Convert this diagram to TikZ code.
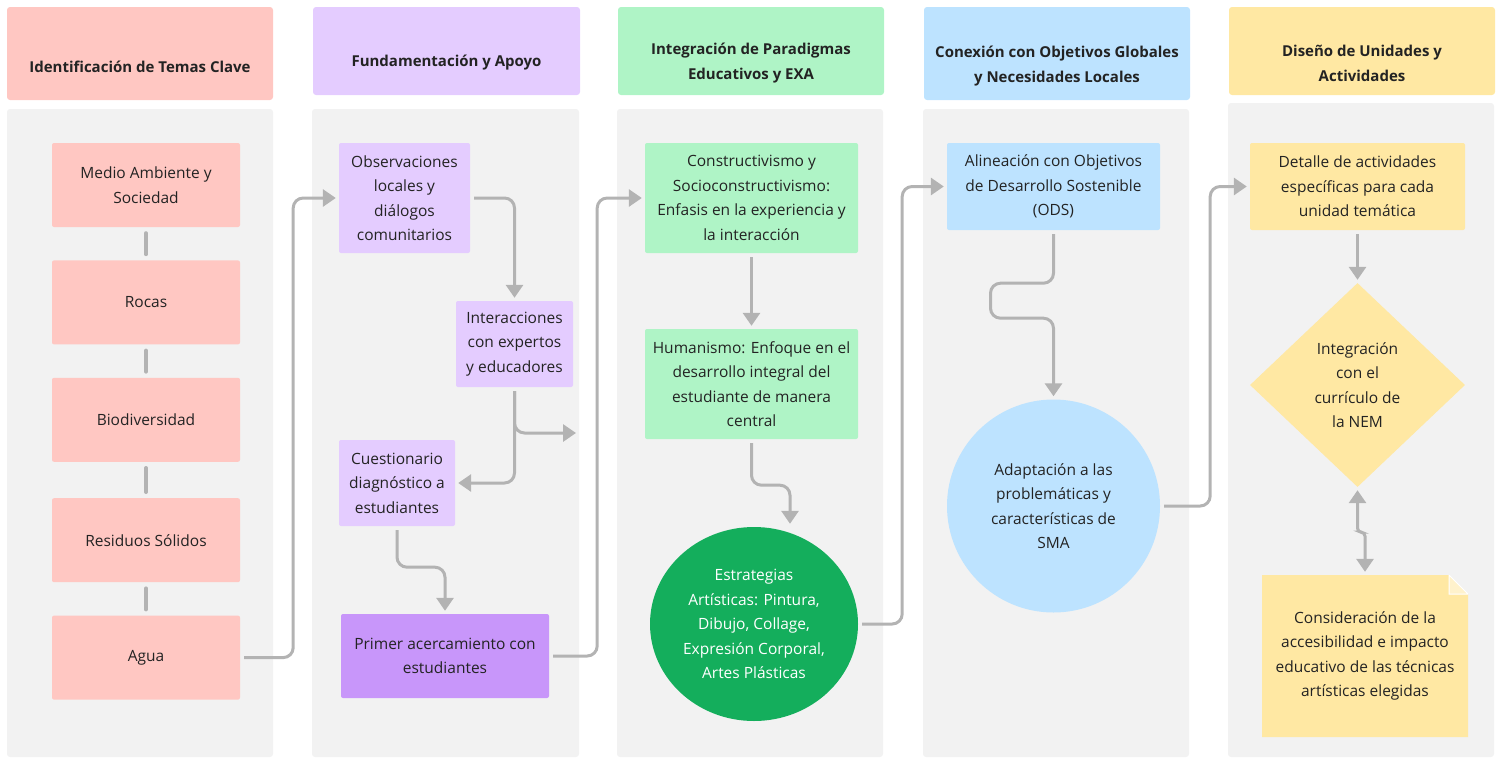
\documentclass[tikz,border=0pt]{standalone}
\usepackage{fontspec}
\setmainfont{Open Sans}
\usetikzlibrary{shapes.geometric, arrows.meta, positioning, backgrounds}
\definecolor{temasred}{RGB}{255,199,194}
\definecolor{apoyolilac}{RGB}{228,204,255}
\definecolor{apoyoviolet}{RGB}{200,150,250}
\definecolor{paradigmgreen}{RGB}{175,244,198}
\definecolor{artegreen}{RGB}{20,174,92}
\definecolor{globalblue}{RGB}{189,227,255}
\definecolor{disenoyellow}{RGB}{255,232,163}
\definecolor{panelgray}{RGB}{242,242,242}
\definecolor{linegray}{RGB}{179,179,179}
\definecolor{inkgray}{RGB}{35,35,35}
\tikzset{
    flowhead/.style={rectangle, fill=#1, rounded corners=3pt, minimum width=266pt, inner sep=0pt},
    flowtitle/.style={font=\bfseries\fontsize{15}{25}\selectfont, text=inkgray, align=center},
    flowpanel/.style={rectangle, fill=panelgray, rounded corners=3pt, minimum width=266pt, inner sep=0pt},
    flowbox/.style={rectangle, fill=#1, rounded corners=2pt, inner sep=0pt, align=center, text=inkgray, font=\fontsize{15.5}{24.5}\selectfont},
    flowround/.style={ellipse, fill=#1, inner sep=-8pt, align=center, text=inkgray, font=\fontsize{15.5}{24.5}\selectfont},
    flowdiamond/.style={diamond, fill=#1, aspect=1.05, inner sep=0pt, align=center, text=inkgray, font=\fontsize{15.5}{24.5}\selectfont},
    flownote/.style={rectangle, inner sep=0pt, align=center, text=inkgray, font=\fontsize{15.5}{24.5}\selectfont, path picture={
        \fill[#1] (path picture bounding box.south west) -- (path picture bounding box.north west) -- ([xshift=-19pt]path picture bounding box.north east) -- ([yshift=-19pt]path picture bounding box.north east) -- (path picture bounding box.south east) -- cycle;
        \filldraw[fill=#1!55!white, draw=white, line width=1pt] ([xshift=-19pt]path picture bounding box.north east) -- ([xshift=-19pt, yshift=-19pt]path picture bounding box.north east) -- ([yshift=-19pt]path picture bounding box.north east) -- cycle;}},
    flowarrow/.style={draw=linegray, line width=3pt, rounded corners=10pt, shorten <=4pt, shorten >=3pt, -{Triangle[length=13pt, width=17pt]}},
    flowdarrow/.style={flowarrow, {Triangle[length=13pt, width=17pt]}-{Triangle[length=13pt, width=17pt]}, shorten <=3pt, rounded corners=4pt},
    flowlink/.style={draw=linegray, line width=4pt, line cap=round, shorten <=6pt, shorten >=6pt}
}

\begin{document}
\begin{tikzpicture}[x=1pt, y=-1pt, node distance=33pt,
    tema/.style={flowbox=temasred, minimum width=188pt, minimum height=84pt}]
\useasboundingbox (0,0) rectangle (1502,758);

\node[flowhead=temasred, minimum height=93pt] (h1) at (140,53.5) {};
\node[flowhead=apoyolilac, minimum height=88pt, minimum width=267pt] (h2) at (446.5,51) {};
\node[flowhead=paradigmgreen, minimum height=88pt] (h3) at (751,51) {};
\node[flowhead=globalblue, minimum height=93pt] (h4) at (1057,53.5) {};
\node[flowhead=disenoyellow, minimum height=88pt] (h5) at (1362,51) {};
\node[flowtitle] (t1) at ([yshift=-13.5pt]h1.center) {Identificación de Temas Clave};
\node[flowtitle] (t2) at ([yshift=-12pt]h2.center) {Fundamentación y Apoyo};
\node[flowtitle] (t3) at ([yshift=-12.5pt]h3.center) {Integración de Paradigmas\\Educativos y EXA};
\node[flowtitle] (t4) at ([yshift=-13pt]h4.center) {Conexión con Objetivos Globales\\y Necesidades Locales};
\node[flowtitle] (t5) at ([yshift=-12.5pt]h5.center) {Diseño de Unidades y\\Actividades};

\node[flowpanel, minimum height=648pt] (p1) at (140,433) {};
\node[flowpanel, minimum height=648pt, minimum width=267pt] (p2) at (445.5,433) {};
\node[flowpanel, minimum height=648pt] (p3) at (750,433) {};
\node[flowpanel, minimum height=648pt] (p4) at (1056,433) {};
\node[flowpanel, minimum height=654pt] (p5) at (1361,430) {};

\node[tema] (medio) at (146,185) {Medio Ambiente y\\Sociedad};
\node[tema, below=of medio] (rocas) {Rocas};
\node[tema, below=of rocas] (bio) {Biodiversidad};
\node[tema, below=36pt of bio] (residuos) {Residuos Sólidos};
\node[tema, below=of residuos] (agua) {Agua};

\node[flowbox=apoyolilac, minimum width=131pt, minimum height=110pt] (obs) at (404.5,198) {Observaciones\\locales y\\diálogos\\comunitarios};
\node[flowbox=apoyolilac, minimum width=117pt, minimum height=86pt] (inter) at (514.5,344) {Interacciones\\con expertos\\y educadores};
\node[flowbox=apoyolilac, minimum width=116pt, minimum height=86pt] (cuest) at (397,483) {Cuestionario\\diagnóstico a\\estudiantes};
\node[flowbox=apoyoviolet, minimum width=208pt, minimum height=84pt] (primer) at (445,656) {Primer acercamiento con\\estudiantes};

\node[flowbox=paradigmgreen, minimum width=213pt, minimum height=110pt] (constr) at (751.5,198) {Constructivismo y\\Socioconstructivismo:\\Enfasis en la experiencia y\\la interacción};
\node[flowbox=paradigmgreen, minimum width=213pt, minimum height=110pt] (human) at (751.5,384) {Humanismo: Enfoque en el\\desarrollo integral del\\estudiante de manera\\central};
\node[flowround=artegreen, text=white, minimum width=208pt, minimum height=194pt] (artes) at (754,624) {Estrategias\\Artísticas: Pintura,\\Dibujo, Collage,\\Expresión Corporal,\\Artes Plásticas};

\node[flowbox=globalblue, minimum width=213pt, minimum height=87pt] (ods) at (1053.5,186.5) {Alineación con Objetivos\\de Desarrollo Sostenible\\(ODS)};
\node[flowround=globalblue, minimum size=213pt] (sma) at (1053.5,506) {Adaptación a las\\problemáticas y\\características de\\SMA};

\node[flowbox=disenoyellow, minimum width=215pt, minimum height=87pt] (detalle) at (1357.5,186.5) {Detalle de actividades\\específicas para cada\\unidad temática};
\node[flowdiamond=disenoyellow, minimum width=215pt, minimum height=204pt] (nem) at (1357.5,385) {Integración\\con el\\currículo de\\la NEM};
\node[flownote=disenoyellow, minimum width=206pt, minimum height=162pt] (acceso) at (1365,656) {Consideración de la\\accesibilidad e impacto\\educativo de las técnicas\\artísticas elegidas};

\coordinate (suelto) at (579,433);

\draw[flowlink] (medio) -- (rocas);
\draw[flowlink] (rocas) -- (bio);
\draw[flowlink] (bio) -- (residuos);
\draw[flowlink] (residuos) -- (agua);

\draw[flowarrow] (agua.east) -- ++(53,0) |- (obs.west);
\draw[flowarrow] (obs.east) -| (inter.north);
\draw[flowarrow] (inter.south) |- (cuest.east);
\draw[flowarrow] (inter.south) |- (suelto);
\draw[flowarrow] (cuest.south) -- ++(0,41) -| (primer.north);
\draw[flowarrow] (primer.east) -- ++(48,0) |- (constr.west);
\draw[flowarrow] (constr) -- (human);
\draw[flowarrow] (human.south) -- ++(0,46) -| ([xshift=36pt]artes.north);
\draw[flowarrow] (artes.east) -- ++(44,0) |- (ods.west);
\draw[flowarrow] (ods.south) -- ++(0,53) -- ++(-63,0) -- ++(0,35) -| (sma.north);
\draw[flowarrow] (sma.east) -- ++(50,0) |- (detalle.west);
\draw[flowarrow] (detalle) -- (nem);
\draw[flowdarrow] (nem.south) -- ++(0,45) -| (acceso.north);

\end{tikzpicture}
\end{document}
